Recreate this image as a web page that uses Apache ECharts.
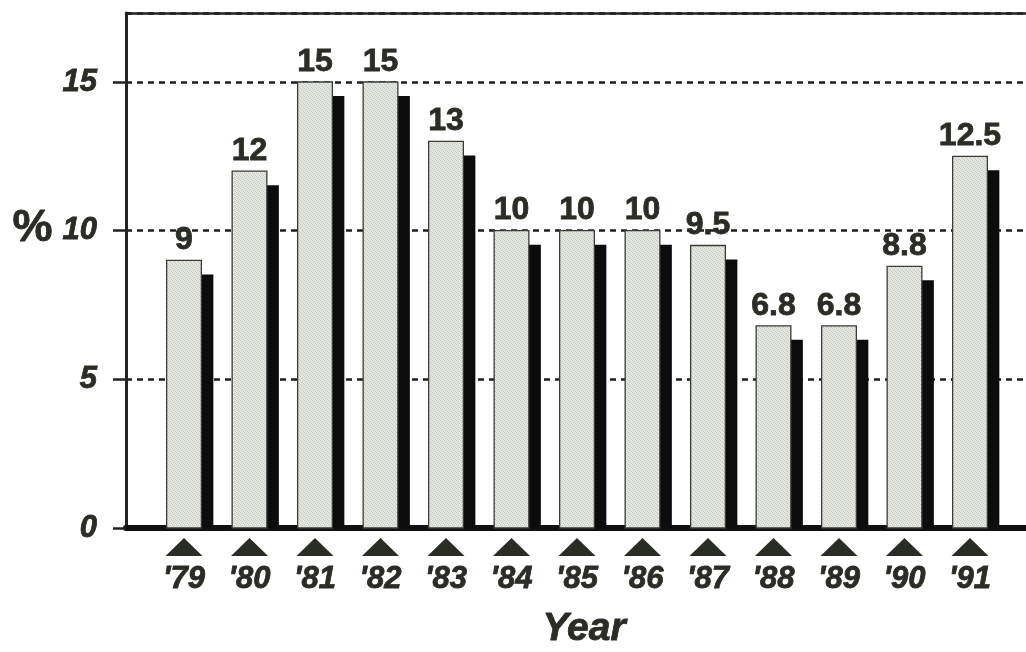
<!DOCTYPE html>
<html>
<head>
<meta charset="utf-8">
<script src="https://cdn.jsdelivr.net/npm/echarts@6/dist/echarts.min.js"></script>
<style>
html,body{margin:0;padding:0;background:#fff;}
#chart{width:1026px;height:652px;}
</style>
</head>
<body>
<div id="chart"></div>
<script>
// ---- data ----
const years = ["'79", "'80", "'81", "'82", "'83", "'84", "'85", "'86", "'87", "'88", "'89", "'90", "'91"];
const rates = [9, 12, 15, 15, 13, 10, 10, 10, 9.5, 6.8, 6.8, 8.8, 12.5];
const yTickStep = 5;

// ---- styling ----
const INK = '#2a2d25';
const FONT = '"Liberation Sans", Arial, sans-serif';
const Y_MAX = 17.32;

// stipple pattern for the light bars
const pc = document.createElement('canvas');
pc.width = 4; pc.height = 4;
const pctx = pc.getContext('2d');
pctx.fillStyle = '#e3e6e1';
pctx.fillRect(0, 0, 4, 4);
pctx.fillStyle = '#c4c8c1';
pctx.fillRect(0, 0, 1, 1);
pctx.fillRect(2, 1, 1, 1);
pctx.fillRect(1, 2, 1, 1);
pctx.fillRect(3, 3, 1, 1);
const stipple = { image: pc, repeat: 'repeat' };

function renderItem(params, api) {
  const i = api.value(0);
  const v = api.value(1);
  const top = api.coord([i, v]);
  const base = api.coord([i, 0]);
  const bw = api.size([1, 0])[0] * 0.53;
  const cx = top[0];
  const h = base[1] - top[1];
  return {
    type: 'group',
    children: [
      { type: 'rect', shape: { x: cx - bw / 2 + 12, y: top[1] + 14, width: bw, height: h - 14 }, style: { fill: '#0c0c0c' } },
      { type: 'rect', shape: { x: cx - bw / 2, y: top[1], width: bw, height: h }, style: { fill: stipple, stroke: '#3a3d36', lineWidth: 1.3 } },
      { type: 'polygon', shape: { points: [[cx - 18.5, base[1] + 28], [cx + 18.5, base[1] + 28], [cx, base[1] + 10]] }, style: { fill: INK } },
      { type: 'text', x: cx, y: top[1] - 4, style: { text: String(rates[params.dataIndex]), fill: INK, font: 'bold 32px ' + FONT, textAlign: 'center', textVerticalAlign: 'bottom', stroke: INK, lineWidth: 0.8 } }
    ]
  };
}

const chart = echarts.init(document.getElementById('chart'), null, { renderer: 'canvas' });
chart.setOption({
  animation: false,
  backgroundColor: '#ffffff',
  grid: [
    { left: 151.25, right: 23.25, top: 13, bottom: 124 },
    { left: 126, right: 0, top: 13, bottom: 124 }
  ],
  xAxis: [
    {
      gridIndex: 0, type: 'category', data: years,
      axisLine: { show: false }, axisTick: { show: false },
      axisLabel: { margin: 36, color: INK, fontFamily: FONT, fontSize: 31, fontWeight: 'bold', fontStyle: 'italic', textBorderColor: INK, textBorderWidth: 0.8 }
    },
    {
      gridIndex: 1, type: 'value', min: 0, max: 1, position: 'bottom',
      axisLine: { show: true, lineStyle: { color: '#111', width: 6 } },
      axisTick: { show: false }, axisLabel: { show: false }, splitLine: { show: false }
    },
    {
      gridIndex: 1, type: 'value', min: 0, max: 1, position: 'top',
      axisLine: { show: true, lineStyle: { color: '#222', width: 2.5 } },
      axisTick: { show: false }, axisLabel: { show: false }, splitLine: { show: false }
    }
  ],
  yAxis: [
    { gridIndex: 0, type: 'value', min: 0, max: Y_MAX, interval: yTickStep, show: false, splitLine: { show: false } },
    {
      gridIndex: 1, type: 'value', min: 0, max: Y_MAX, interval: yTickStep,
      axisLine: { show: true, lineStyle: { color: '#222', width: 3 } },
      axisTick: { show: true, inside: false, length: 13, lineStyle: { color: '#222', width: 2.5 } },
      axisLabel: { margin: 29, color: INK, fontFamily: FONT, fontSize: 31, fontWeight: 'bold', fontStyle: 'italic', showMaxLabel: false, textBorderColor: INK, textBorderWidth: 0.8 },
      splitLine: { show: true, lineStyle: { color: '#1e1e1e', width: 2.5, type: [6, 5] } }
    }
  ],
  graphic: [
    { type: 'text', left: 12, top: 206, style: { text: '%', fill: INK, font: 'bold 45px ' + FONT, stroke: INK, lineWidth: 0.8 } },
    { type: 'text', x: 584, y: 629, style: { text: 'Year', fill: INK, font: 'italic bold 39px ' + FONT, textAlign: 'center', textVerticalAlign: 'middle', stroke: INK, lineWidth: 0.8 } }
  ],
  series: [
    {
      type: 'custom', xAxisIndex: 0, yAxisIndex: 0, renderItem: renderItem,
      encode: { x: 0, y: 1 },
      data: rates.map((v, i) => [i, v]), z: 5
    }
  ]
});
</script>
</body>
</html>
